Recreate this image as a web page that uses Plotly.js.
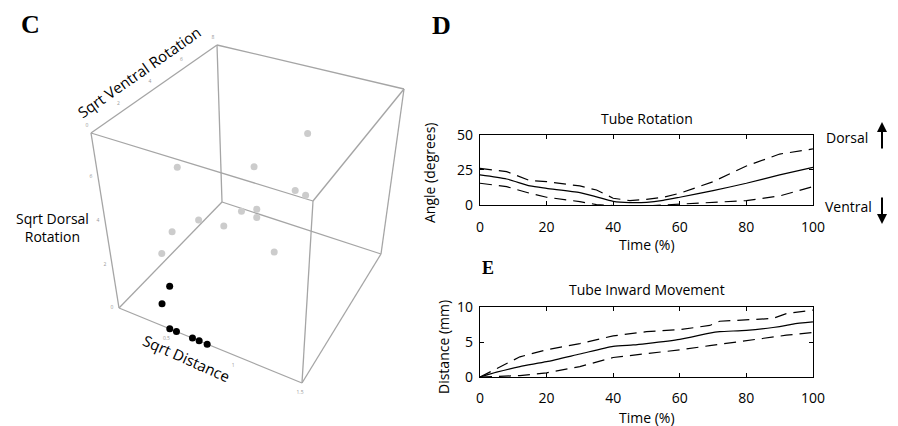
<!DOCTYPE html>
<html><head><meta charset="utf-8">
<script src="https://cdn.plot.ly/plotly-3.0.1.min.js"></script>
<style>html,body{margin:0;padding:0;background:#fff}#g{width:898px;height:426px}</style>
</head><body><div id="g"></div>
<script>
// ---------- DATA ----------
// Panel C: 3D scatter (sqrt distance, sqrt ventral rotation, sqrt dorsal rotation)
const grayDistance = [0.92, 0.29, 0.61, 0.90, 0.99, 0.60, 0.68, 0.68, 0.40, 0.53, 0.32, 0.28, 0.84];
const grayVentral  = [6.9, 3.6, 6.0, 6.3, 6.2, 5.1, 5.5, 5.5, 3.8, 4.4, 2.6, 2.1, 5.3];
const grayDorsal   = [5.6, 4.8, 4.0, 3.2, 3.2, 2.4, 2.4, 2.0, 2.4, 2.0, 2.4, 1.6, 0.8];
const blackDistance = [0.51, 0.56, 0.68, 0.73, 0.79, 0.54, 0.47];
const blackVentral  = [0, 0, 0, 0, 0, 0, 0];
const blackDorsal   = [0, 0, 0, 0, 0, 2.0, 1.04];
const distanceRange = [0.13, 1.5];
const ventralRange  = [0, 8];
const dorsalRange   = [0, 8];
const distanceTicks = [0.5, 1, 1.5];
const ventralTicks  = [0, 2, 4, 6, 8];
const dorsalTicks   = [0, 2, 4, 6];

// Panel D: Tube Rotation
const timeD = [0, 8, 15, 20, 30, 35, 40, 45, 50, 55, 60, 70, 80, 90, 100];
const rotMean  = [21.5, 18.6, 13.7, 12, 9, 6, 2.8, 1.9, 2.1, 3.5, 5.7, 10.4, 15.6, 21.5, 26.9];
const rotUpper = [26.2, 23.8, 17.5, 16.7, 13.7, 10.8, 5, 3.3, 4.2, 5.7, 8.5, 16.7, 27.8, 36.3, 39.9];
const rotLower = [15.6, 13.2, 8.5, 5.7, 2.6, 0.5, -0.2, -0.4, -0.5, 0.2, 0.9, 2.1, 3.3, 6.6, 13.2];

// Panel E: Tube Inward Movement
const timeE = [0, 5, 12, 20, 30, 40, 46, 50, 60, 69, 72, 80, 88, 92, 94, 100];
const movMean  = [0, 0.7, 1.5, 2.2, 3.3, 4.4, 4.6, 4.8, 5.4, 6.3, 6.5, 6.7, 7.1, 7.4, 7.6, 7.9];
const movUpper = [0, 1.2, 2.9, 3.9, 4.8, 5.9, 6.2, 6.5, 6.8, 7.4, 8.0, 8.2, 8.4, 9.1, 9.2, 9.6];
const movLower = [0, 0.1, 0.2, 0.6, 1.5, 2.8, 3.1, 3.4, 3.9, 4.5, 4.7, 5.3, 5.8, 6.0, 6.1, 6.4];

// ---------- 3D -> 2D projection (perspective box, trilinear between its corners) ----------
const BOX = { // screen position of the box corners, key = u v w (0 = min, 1 = max)
  '000': [119, 308], '100': [302, 383], '010': [222, 202], '110': [381, 254],
  '001': [91, 133],  '101': [313, 201], '011': [217, 45],  '111': [404, 89]
};
function lerp(a, b, t) { return [a[0] + (b[0] - a[0]) * t, a[1] + (b[1] - a[1]) * t]; }
function projN(u, v, w) {
  const b0 = lerp(lerp(BOX['000'], BOX['100'], u), lerp(BOX['010'], BOX['110'], u), v);
  const b1 = lerp(lerp(BOX['001'], BOX['101'], u), lerp(BOX['011'], BOX['111'], u), v);
  return lerp(b0, b1, w);
}
const nrm = (val, r) => (val - r[0]) / (r[1] - r[0]);
function proj(d, vr, dr) { return projN(nrm(d, distanceRange), nrm(vr, ventralRange), nrm(dr, dorsalRange)); }
function projectSeries(ds, vs, zs) {
  const xs = [], ys = [];
  ds.forEach((d, i) => { const p = proj(d, vs[i], zs[i]); xs.push(p[0]); ys.push(p[1]); });
  return {x: xs, y: ys};
}
// box edges
const edgeX = [], edgeY = [];
const keys = ['000','100','010','110','001','101','011','111'];
for (let i = 0; i < 8; i++) for (let j = i + 1; j < 8; j++) {
  let diff = 0; for (let k = 0; k < 3; k++) if (keys[i][k] !== keys[j][k]) diff++;
  if (diff === 1) { edgeX.push(BOX[keys[i]][0], BOX[keys[j]][0], null); edgeY.push(BOX[keys[i]][1], BOX[keys[j]][1], null); }
}
// tick labels
const tkX = [], tkY = [], tkT = [];
distanceTicks.forEach(t => { const p = proj(t, ventralRange[0], dorsalRange[0]); tkX.push(p[0] - 2); tkY.push(p[1] + 10); tkT.push(String(t)); });
dorsalTicks.forEach(t => { const p = proj(distanceRange[0], ventralRange[0], t); tkX.push(p[0] - 7); tkY.push(p[1]); tkT.push(String(t)); });
ventralTicks.forEach(t => { const p = proj(distanceRange[0], t, dorsalRange[1]); tkX.push(p[0] - 4); tkY.push(p[1] - 7); tkT.push(String(t)); });

const gP = projectSeries(grayDistance, grayVentral, grayDorsal);
const bP = projectSeries(blackDistance, blackVentral, blackDorsal);

const FONT = '"Open Sans", "Noto Sans", sans-serif';
const lineSolid = {color: '#000', width: 1.2, shape: 'spline', smoothing: 0.6};
const lineDash = {color: '#000', width: 1.2, dash: '12px,7px'};

const traces = [
  {type: 'scatter', mode: 'lines', x: edgeX, y: edgeY, xaxis: 'x3', yaxis: 'y3',
   line: {color: '#a5a5a5', width: 1.3}, hoverinfo: 'skip'},
  {type: 'scatter', mode: 'text', x: tkX, y: tkY, text: tkT, xaxis: 'x3', yaxis: 'y3',
   textfont: {size: 5, color: '#999', family: FONT}, hoverinfo: 'skip'},
  {type: 'scatter', mode: 'markers', x: gP.x, y: gP.y, xaxis: 'x3', yaxis: 'y3',
   marker: {size: 7, color: '#cccccc', line: {width: 0}}, hoverinfo: 'skip'},
  {type: 'scatter', mode: 'markers', x: bP.x, y: bP.y, xaxis: 'x3', yaxis: 'y3',
   marker: {size: 7, color: '#000', line: {width: 0}}, hoverinfo: 'skip'},
  {type: 'scatter', mode: 'lines', x: timeD, y: rotMean, line: lineSolid, xaxis: 'x', yaxis: 'y'},
  {type: 'scatter', mode: 'lines', x: timeD, y: rotUpper, line: lineDash, xaxis: 'x', yaxis: 'y'},
  {type: 'scatter', mode: 'lines', x: timeD, y: rotLower, line: lineDash, xaxis: 'x', yaxis: 'y'},
  {type: 'scatter', mode: 'lines', x: timeE, y: movMean, line: lineSolid, xaxis: 'x2', yaxis: 'y2'},
  {type: 'scatter', mode: 'lines', x: timeE, y: movUpper, line: lineDash, xaxis: 'x2', yaxis: 'y2'},
  {type: 'scatter', mode: 'lines', x: timeE, y: movLower, line: lineDash, xaxis: 'x2', yaxis: 'y2'}
];

const ax2 = (extra) => Object.assign({
  showline: true, mirror: 'ticks', linecolor: '#000', linewidth: 1.2,
  ticks: 'inside', ticklen: 4, tickcolor: '#000', showgrid: false, zeroline: false,
  tickfont: {size: 14, color: '#000', family: FONT}, fixedrange: true
}, extra);
const hidden = (extra) => Object.assign({visible: false, showgrid: false, zeroline: false, fixedrange: true, domain: [0, 1]}, extra);

const P = (px, py) => ({x: px / 898, y: 1 - py / 426});
const ann = (text, px, py, size, extra) => Object.assign({
  text: text, x: P(px, py).x, y: P(px, py).y, xref: 'paper', yref: 'paper', showarrow: false,
  xanchor: 'center', yanchor: 'middle', font: {size: size, family: FONT, color: '#000'}
}, extra || {});

const layout = {
  width: 898, height: 426, margin: {l: 0, r: 0, t: 0, b: 0},
  paper_bgcolor: '#fff', plot_bgcolor: 'rgba(0,0,0,0)', showlegend: false,
  font: {family: FONT, color: '#000'},
  xaxis3: hidden({range: [0, 898], anchor: 'y3'}),
  yaxis3: hidden({range: [426, 0], anchor: 'x3'}),
  xaxis: ax2({domain: [0.5345, 0.9053], range: [0, 100], dtick: 20, anchor: 'y', ticklabelstandoff: 9}),
  yaxis: ax2({domain: [0.5181, 0.6838], range: [0, 50], tickvals: [0, 25, 50], anchor: 'x', ticklabelstandoff: 3}),
  xaxis2: ax2({domain: [0.5345, 0.9053], range: [0, 100], dtick: 20, anchor: 'y2', ticklabelstandoff: 8}),
  yaxis2: ax2({domain: [0.115, 0.2786], range: [0, 10], tickvals: [0, 5, 10], anchor: 'x2', ticklabelstandoff: 3}),
  annotations: [
    ann('<b>C</b>', 30, 25, 26, {font: {family: '"Liberation Serif", serif', size: 26, color: '#000'}}),
    ann('<b>D</b>', 441, 26, 26, {font: {family: '"Liberation Serif", serif', size: 26, color: '#000'}}),
    ann('<b>E</b>', 488, 268, 18, {font: {family: '"Liberation Serif", serif', size: 18, color: '#000'}}),
    ann('Tube Rotation', 647, 118, 14),
    ann('Tube Inward Movement', 647, 289, 14),
    ann('Time (%)', 647, 244, 14),
    ann('Time (%)', 647, 417, 14),
    ann('Angle (degrees)', 429, 173, 14, {textangle: -90}),
    ann('Distance (mm)', 443, 347, 14, {textangle: -90}),
    ann('Dorsal', 847, 137, 14),
    ann('Ventral', 848, 206, 14),
    {text: '', x: 882/898, y: 1 - 122/426, xref: 'paper', yref: 'paper', showarrow: true,
     ax: 0, ay: 28, arrowhead: 2, arrowsize: 1, arrowwidth: 2, arrowcolor: '#000'},
    {text: '', x: 882/898, y: 1 - 224/426, xref: 'paper', yref: 'paper', showarrow: true,
     ax: 0, ay: -28, arrowhead: 2, arrowsize: 1, arrowwidth: 2, arrowcolor: '#000'},
    ann('Sqrt Ventral Rotation', 139, 72, 15, {textangle: -35}),
    ann('Sqrt Dorsal<br>Rotation', 52, 228, 14),
    ann('Sqrt Distance', 186, 358, 15, {textangle: 24})
  ]
};

Plotly.newPlot('g', traces, layout, {staticPlot: true, displayModeBar: false});
</script></body></html>
